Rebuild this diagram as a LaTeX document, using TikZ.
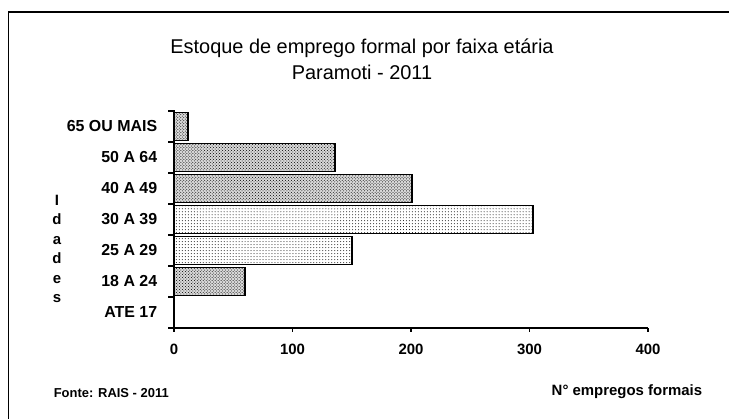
\documentclass[tikz,border=0pt]{standalone}
\usepackage{fontspec}
\setmainfont{Liberation Sans}
\usetikzlibrary{patterns, positioning}

\begin{document}
\begin{tikzpicture}[
            x = 1bp,
            y = -1bp,
            line width = 1.6pt,
            bar/.style = {draw, line width=1.6pt},
            dense/.style = {bar, preaction={fill=black!15}, pattern=crosshatch dots},
            sparse/.style = {bar, pattern=dots},
            catlabel/.style = {anchor=east, inner sep=0pt,
                font=\bfseries\fontsize{16}{16}\selectfont},
            ticklabel/.style = {inner sep=0pt,
                font=\bfseries\fontsize{15}{15}\selectfont},
            smalltext/.style = {inner sep=0pt,
                font=\bfseries\fontsize{13}{13}\selectfont}
        ]

        \useasboundingbox (0,0) rectangle (729,418);
        \draw (8.5,12) rectangle (745,440);

        \node[align=center, font=\fontsize{20}{26}\selectfont] (title) at (362,59)
            {Estoque de emprego formal por faixa etária\\Paramoti - 2011};

        % bars
        \draw[dense]  (174,112.5) rectangle (188,140.5);
        \draw[dense]  (174,143.5) rectangle (335,171.5);
        \draw[dense]  (174,174.5) rectangle (412,202.5);
        \draw[sparse] (174,205.5) rectangle (533,233.5);
        \draw[sparse] (174,236.5) rectangle (352,264.5);
        \draw[dense]  (174,267.5) rectangle (245,295.5);

        % axes
        \draw (174,110) -- (174,328) -- (648,328);
        \draw (168,111) -- (174,111)  (168,142) -- (174,142)
              (168,173) -- (174,173)  (168,204) -- (174,204)
              (168,235) -- (174,235)  (168,266) -- (174,266)
              (168,297) -- (174,297)  (168,328) -- (174,328);
        \draw (174,328) -- (174,332)  (292.5,328) -- (292.5,332)
              (411,328) -- (411,332)  (529.5,328) -- (529.5,332)
              (648,328) -- (648,332);

        \node[catlabel] (c65) at (158,126) {65 OU MAIS};
        \node[catlabel] (c50) at (158,157) {50 A 64};
        \node[catlabel] (c40) at (158,188) {40 A 49};
        \node[catlabel] (c30) at (158,219) {30 A 39};
        \node[catlabel] (c25) at (158,250) {25 A 29};
        \node[catlabel] (c18) at (158,281) {18 A 24};
        \node[catlabel] (c17) at (158,312) {ATE 17};

        \node[ticklabel] (t0)   at (174,349)   {0};
        \node[ticklabel] (t100) at (292.5,349) {100};
        \node[ticklabel] (t200) at (411,349)   {200};
        \node[ticklabel] (t300) at (529.5,349) {300};
        \node[ticklabel] (t400) at (648,349)   {400};

        \node[align=center, font=\bfseries\fontsize{15}{19.5}\selectfont] (idades)
            at (57,249) {I\\d\\a\\d\\e\\s};

        \node[smalltext, anchor=west] (fonte) at (53,393) {Fonte: RAIS - 2011};
        \node[ticklabel, anchor=east] (xlabel) at (703,392) {N° empregos formais};
    \end{tikzpicture}
\end{document}
